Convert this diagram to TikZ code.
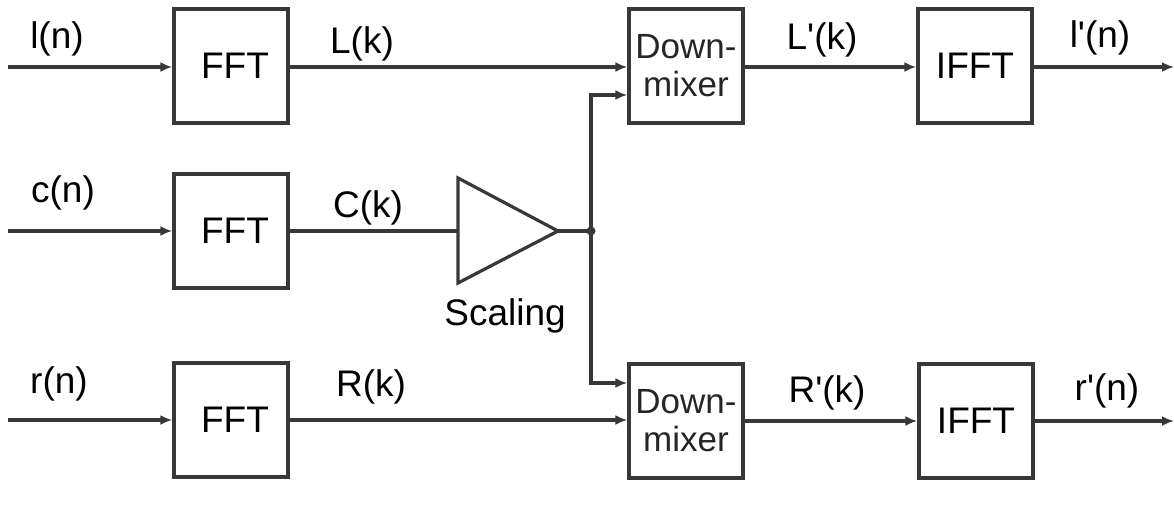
\documentclass[tikz,border=0pt]{standalone}
\usepackage{fontspec}
\setmainfont{Liberation Sans}
\usetikzlibrary{arrows.meta}
\definecolor{ln}{HTML}{383838}
\newcommand{\sq}{\textquotesingle}
\begin{document}
\begin{tikzpicture}[x=1pt,y=-1pt,
  blk/.style={draw=ln,line width=3.4pt,minimum width=114pt,minimum height=114pt,inner sep=0pt,font=\fontsize{37}{40}\selectfont},
  mix/.style={blk,font=\fontsize{35}{38}\selectfont,align=center,text=black!85},
  wire/.style={draw=ln,line width=3.2pt},
  arr/.style={wire,-{Latex[length=12pt,width=10pt]}},
  lbl/.style={inner sep=0pt,font=\fontsize{37}{40}\selectfont}]
\useasboundingbox (0,0) rectangle (1174,504);
% blocks
\node[blk] (fftL) at (231,66) {\hspace*{8pt}FFT};
\node[blk] (fftC) at (231,231) {\hspace*{8pt}FFT};
\node[blk] (fftR) at (231,420) {\hspace*{8pt}FFT};
\node[mix] (dmL) at (686,66) {Down-\\mixer};
\node[mix] (dmR) at (686,421) {Down-\\mixer};
\node[blk] (ifftL) at (975,66) {IFFT};
\node[blk] (ifftR) at (976,421) {IFFT};
% scaling triangle
\coordinate (scIn) at (458,231);
\coordinate (scOut) at (558,231);
\draw[ln,line width=3.2pt,line join=miter] (458,178) -- (scOut) -- (458,283) -- cycle;
\coordinate (j) at (591,231);
% inputs / outputs
\coordinate (inL) at (8,67);
\coordinate (inC) at (8,231);
\coordinate (inR) at (8,420);
\coordinate (outL) at (1174,67);
\coordinate (outR) at (1174,421);
% connectors
\draw[arr] (inL) -- (fftL.west |- inL);
\draw[arr] (inC) -- (fftC.west);
\draw[arr] (inR) -- (fftR.west);
\draw[arr] (fftL.east |- inL) -- (dmL.west |- inL);
\draw[wire] (fftC.east) -- (scIn);
\draw[wire] (scOut) -- (j);
\draw[arr] (fftR.east) -- (dmR.west |- fftR.east);
\draw[arr] (j) |- ([yshift=-29pt]dmL.west);
\draw[arr] (j) |- ([yshift=38pt]dmR.west);
\fill[ln] (j) circle (4.5pt);
\draw[arr] (dmL.east |- inL) -- (ifftL.west |- inL);
\draw[arr] (dmR.east) -- (ifftR.west);
\draw[arr] (ifftL.east |- outL) -- (outL);
\draw[arr] (ifftR.east) -- (outR);
% labels
\node[lbl] (lblIn) at (57,39) {l(n)};
\node[lbl] (lblCn) at (63,193) {c(n)};
\node[lbl] (lblRn) at (59,384) {r(n)};
\node[lbl] (lblLk) at (362,44) {L(k)};
\node[lbl] (lblCk) at (368,208) {C(k)};
\node[lbl] (lblRk) at (371,387) {R(k)};
\node[lbl] (lblLpk) at (822,40) {L\sq(k)};
\node[lbl] (lblRpk) at (827,393) {R\sq(k)};
\node[lbl] (lblLpn) at (1100,38) {l\sq(n)};
\node[lbl] (lblRpn) at (1107,391) {r\sq(n)};
\node[lbl] (lblSc) at (505,316) {Scaling};
\end{tikzpicture}
\end{document}
